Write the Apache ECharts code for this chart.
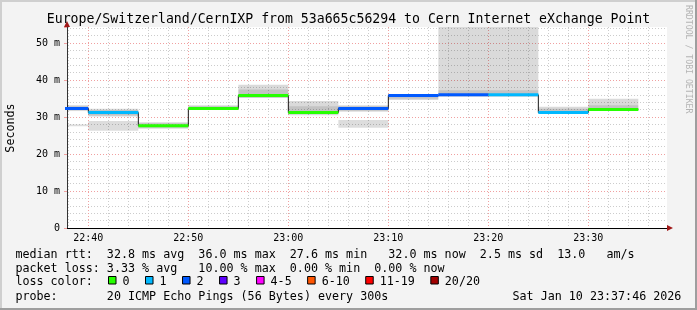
<!DOCTYPE html>
<html><head><meta charset="utf-8">
<script src="https://cdn.jsdelivr.net/npm/echarts@6/dist/echarts.min.js"></script>
<style>html,body{margin:0;padding:0;background:#f3f3f3}#c{width:697px;height:310px}</style>
</head><body><div id="c"></div>
<script>
// ---------- data ----------
const slotStart = ['22:35','22:40','22:45','22:50','22:55','23:00','23:05','23:10','23:15','23:20','23:25','23:30'];
const slotLength = 5; // minutes
const medianRtt = [32.3, 31.2, 27.6, 32.3, 35.8, 31.2, 32.3, 35.8, 36.0, 36.0, 31.2, 32.0];
const lostPings = [2, 1, 0, 0, 0, 0, 2, 2, 2, 1, 1, 0];
const smokeOuterLow  = [31.6, 30.1, 26.8, 31.9, 35.1, 30.5, 31.4, 34.6, 35.5, 35.5, 31.4, 32.1];
const smokeOuterHigh = [33.2, 32.2, 28.6, 33.2, 38.7, 34.3, 33.2, 36.2, 56.0, 56.0, 32.8, 34.9];
const smokeInnerLow  = [31.9, 30.4, 27.1, 32.0, 35.3, 30.8, 31.7, 34.9, 35.6, 35.6, 31.5, 32.0];
const smokeInnerHigh = [32.9, 31.9, 28.3, 32.9, 37.4, 32.9, 32.9, 36.0, 37.2, 37.2, 32.2, 33.2];
const smokeStrayLow  = [27.5, 26.3, null, null, null, null, 27.1, null, null, null, null, null];
const smokeStrayHigh = [28.0, 28.9, null, null, null, null, 29.2, null, null, null, null, null];
const lossLabels = ['0', '1', '2', '3', '4-5', '6-10', '11-19', '20/20'];
const lossColors = ['#26ff00', '#00b8ff', '#0059ff', '#5e00ff', '#ff00ff', '#ff5500', '#ff0000', '#a10000'];
const viewStart = '22:37:52';
const viewEnd = '23:37:52';
const yTop = 54.32;
const rttStats = ['32.8', '36.0', '27.6', '32.0', '2.5', '13.0'];
const lossStats = ['3.33', '10.00', '0.00', '0.00'];
const titleText = 'Europe/Switzerland/CernIXP from 53a665c56294 to Cern Internet eXchange Point';
const probeText = '20 ICMP Echo Pings (56 Bytes) every 300s';
const dateText = 'Sat Jan 10 23:37:46 2026';

// ---------- helpers ----------
function toMin(s){ const p = s.split(':').map(Number); return p[0]*60 + p[1] + (p[2]||0)/60; }
function fmtMin(v){ const h = Math.floor(v/60), m = Math.round(v - h*60); return String(h).padStart(2,'0') + ':' + String(m).padStart(2,'0'); }
function bucket(n){ if (n <= 3) return n; if (n <= 5) return 4; if (n <= 10) return 5; if (n <= 19) return 6; return 7; }
const xMin = toMin(viewStart), xMax = toMin(viewEnd);
const MONO = '"DejaVu Sans Mono", monospace';

function smokeSeries(lo, hi, fill){
  const data = [];
  slotStart.forEach((s, i) => { if (lo[i] == null) return; const t = toMin(s); data.push([t, t + slotLength, lo[i], hi[i]]); });
  return {
    type: 'custom', xAxisIndex: 1, yAxisIndex: 1, data, silent: true, animation: false,
    encode: { x: [0, 1], y: [2, 3] },
    renderItem(params, api){
      const a = api.coord([api.value(0), api.value(3)]);
      const b = api.coord([api.value(1), api.value(2)]);
      const cs = params.coordSys;
      const r = echarts.graphic.clipRectByRect(
        { x: a[0], y: a[1], width: b[0] - a[0], height: b[1] - a[1] },
        { x: cs.x, y: cs.y, width: cs.width, height: cs.height });
      return r ? { type: 'rect', shape: r, style: { fill } } : null;
    }
  };
}

const series = [
  smokeSeries(smokeOuterLow, smokeOuterHigh, 'rgba(0,0,0,0.145)'),
  smokeSeries(smokeInnerLow, smokeInnerHigh, 'rgba(0,0,0,0.10)'),
  smokeSeries(smokeStrayLow, smokeStrayHigh, 'rgba(0,0,0,0.135)')
];
// dark median step line
const stepData = slotStart.map((s, i) => [toMin(s), medianRtt[i]]);
stepData.push([toMin(slotStart[slotStart.length-1]) + slotLength, medianRtt[medianRtt.length-1]]);
series.push({ type: 'line', xAxisIndex: 1, yAxisIndex: 1, step: 'end', data: stepData, symbol: 'none', silent: true, animation: false,
  lineStyle: { color: '#1a1a1a', width: 1 } });
// coloured median segments by loss
slotStart.forEach((s, i) => {
  const t = toMin(s);
  series.push({ type: 'line', xAxisIndex: 1, yAxisIndex: 1, data: [[t, medianRtt[i]], [t + slotLength, medianRtt[i]]],
    symbol: 'none', silent: true, animation: false,
    lineStyle: { color: lossColors[bucket(lostPings[i])], width: 3, cap: 'butt' } });
});

// ---------- legend / decorations ----------
const graphics = [
  { type: 'rect', shape: { x: 0, y: 0, width: 697, height: 2 }, style: { fill: '#cfcfcf' }, silent: true },
  { type: 'rect', shape: { x: 0, y: 0, width: 2, height: 310 }, style: { fill: '#cfcfcf' }, silent: true },
  { type: 'rect', shape: { x: 695, y: 0, width: 2, height: 310 }, style: { fill: '#9e9e9e' }, silent: true },
  { type: 'rect', shape: { x: 0, y: 308, width: 697, height: 2 }, style: { fill: '#9e9e9e' }, silent: true }
];
function txt(x, y, text, opts){
  return Object.assign({ type: 'text', x, y, silent: true, z: 100,
    style: Object.assign({ text, font: '11.7px ' + MONO, fill: '#000', align: 'left', verticalAlign: 'middle' }, (opts||{}).style || {}) },
    (opts||{}).el || {});
}
graphics.push(txt(348.5, 19.5, titleText, { style: { font: '13.2px ' + MONO, align: 'center' } }));
graphics.push(txt(11, 128, 'Seconds', { style: { align: 'center' }, el: { rotation: Math.PI/2 } }));
graphics.push(txt(688.5, 5, 'RRDTOOL / TOBI OETIKER', { style: { font: '8.2px ' + MONO, fill: '#b4b4b4' }, el: { rotation: -Math.PI/2 } }));
const row1 = 'median rtt:  ' + rttStats[0] + ' ms avg  ' + rttStats[1] + ' ms max  ' + rttStats[2] + ' ms min   ' +
  rttStats[3] + ' ms now  ' + rttStats[4] + ' ms sd  ' + rttStats[5] + '   am/s';
const row2 = 'packet loss: ' + lossStats[0] + ' % avg   ' + lossStats[1] + ' % max  ' + lossStats[2] + ' % min  ' + lossStats[3] + ' % now';
graphics.push(txt(15.4, 254.5, row1));
graphics.push(txt(15.4, 268.5, row2));
graphics.push(txt(15.4, 282.2, 'loss color:'));
graphics.push(txt(15.4, 296.5, 'probe:       ' + probeText));
graphics.push(txt(681.4, 296.5, dateText, { style: { align: 'right' } }));
let bx = 108.5;
lossLabels.forEach((lab, i) => {
  graphics.push({ type: 'rect', shape: { x: bx, y: 276.5, width: 7.5, height: 7.5 }, silent: true, z: 100,
    style: { fill: lossColors[i], stroke: '#000', lineWidth: 1 } });
  graphics.push(txt(bx + 14, 282.2, lab));
  bx += 30 + 7.02 * lab.length;
});

const minorGrid = { show: true, showMaxLine: false, lineStyle: { color: '#cccccc', type: [1, 2], width: 1 } };
const majorGrid = { show: true, showMaxLine: false, lineStyle: { color: '#f0a0a0', type: [1, 2], width: 1 } };
const arrowLine = { show: true, onZero: false, symbol: ['none', 'triangle'], symbolSize: [6, 6], symbolOffset: [0, 3], lineStyle: { color: '#a01818', width: 1 } };

const option = {
  backgroundColor: '#f3f3f3',
  animation: false,
  grid: { left: 67, top: 27, width: 600, height: 201, show: true, backgroundColor: '#ffffff', borderWidth: 0, containLabel: false },
  xAxis: [
    { type: 'value', position: 'bottom', min: xMin, max: xMax, splitNumber: 30, minInterval: 2, maxInterval: 2,
      axisLine: arrowLine, axisTick: { show: false }, axisLabel: { show: false }, splitLine: minorGrid },
    { type: 'value', position: 'bottom', min: xMin, max: xMax, splitNumber: 6, minInterval: 10, maxInterval: 10,
      axisLine: { show: true, onZero: false, lineStyle: { color: '#000', width: 1 } }, axisTick: { show: false },
      axisLabel: { show: true, margin: 5, fontFamily: MONO, fontSize: 10, color: '#000',
        formatter: v => (Math.abs(v/10 - Math.round(v/10)) < 1e-6 ? fmtMin(v) : '') },
      splitLine: majorGrid }
  ],
  yAxis: [
    { type: 'value', position: 'left', min: 0, max: yTop, interval: 2,
      axisLine: arrowLine, axisTick: { show: false }, axisLabel: { show: false }, splitLine: minorGrid },
    { type: 'value', position: 'left', min: 0, max: yTop, interval: 10,
      axisLine: { show: true, onZero: false, lineStyle: { color: '#333', width: 1 } },
      axisTick: { show: true, length: 3, lineStyle: { color: '#f0a0a0' } },
      axisLabel: { show: true, margin: 7, fontFamily: MONO, fontSize: 10, color: '#000',
        formatter: v => (v === 0 ? '0' : (Math.abs(v % 10) < 1e-6 ? v + ' m' : '')) },
      splitLine: majorGrid }
  ],
  graphic: { elements: graphics },
  series
};
const chart = echarts.init(document.getElementById('c'), null, { renderer: 'canvas' });
chart.setOption(option);
</script>
</body></html>
